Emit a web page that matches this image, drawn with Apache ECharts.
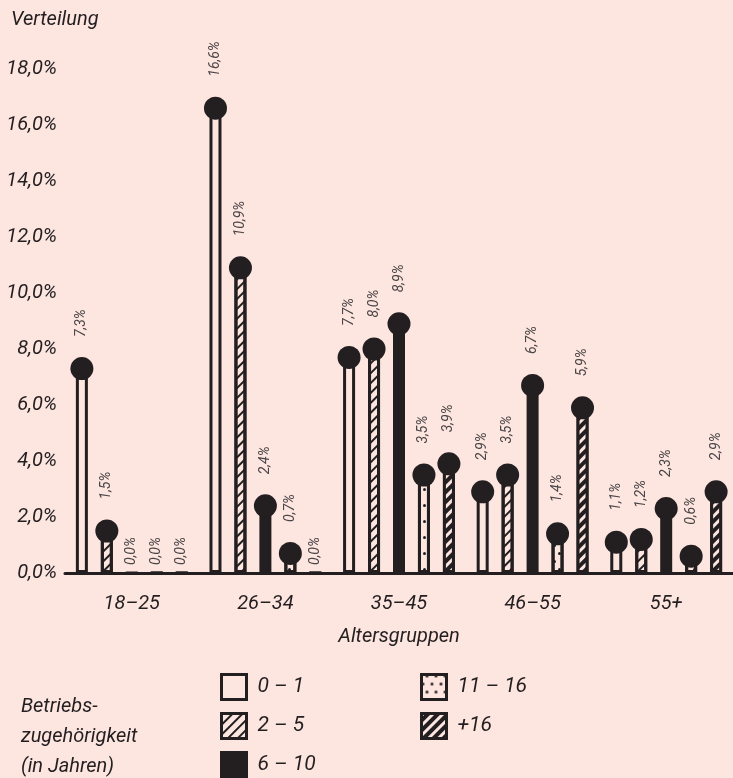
<!DOCTYPE html>
<html>
<head>
<meta charset="utf-8">
<script src="https://cdn.jsdelivr.net/npm/echarts@6/dist/echarts.min.js"></script>
<style>
html,body{margin:0;padding:0;background:#fde5e0;}
#chart{width:733px;height:778px;}
</style>
</head>
<body>
<div id="chart"></div>
<script>
const categories = ['18–25', '26–34', '35–45', '46–55', '55+'];
const groupNames = ['0 – 1', '2 – 5', '6 – 10', '11 – 16', '+16'];
const v0_1   = [7.3, 16.6, 7.7, 2.9, 1.1];
const v2_5   = [1.5, 10.9, 8.0, 3.5, 1.2];
const v6_10  = [0.0, 2.4, 8.9, 6.7, 2.3];
const v11_16 = [0.0, 0.7, 3.5, 1.4, 0.6];
const v16p   = [0.0, 0.0, 3.9, 5.9, 2.9];
const yMin = 0, yMax = 18, yStep = 2;

const BG = '#fde5e0';
const DARK = '#231f20';
const FONT = "'Liberation Sans Narrow', 'Roboto', sans-serif";
const fmt = v => v.toFixed(1).replace('.', ',') + '%';

const allValues = [v0_1, v2_5, v6_10, v11_16, v16p];
const styles = [
  {color: BG},
  {color: BG, decal: {symbol: 'rect', color: DARK, backgroundColor: null, dashArrayX: [1, 0], dashArrayY: [1.2, 5], rotation: -Math.PI / 4, symbolSize: 1}},
  {color: DARK},
  {color: BG, decal: {symbol: 'circle', color: DARK, backgroundColor: null, dashArrayX: [[2.6, 5.4], [0, 4, 2.6, 1.4]], dashArrayY: [2.6, 4.6], symbolSize: 1, rotation: 0}},
  {color: DARK, decal: {symbol: 'rect', color: BG, backgroundColor: null, dashArrayX: [1, 0], dashArrayY: [2.2, 4], rotation: -Math.PI / 4, symbolSize: 1}}
];

const BW = 12, GAP = '108%';
const series = [];
allValues.forEach((vals, i) => {
  series.push({
    name: groupNames[i],
    type: 'bar',
    data: vals,
    barWidth: BW,
    barGap: GAP,
    itemStyle: Object.assign({borderColor: DARK, borderWidth: 3}, styles[i]),
    emphasis: {disabled: true},
    z: 2
  });
});
allValues.forEach((vals, i) => {
  series.push({
    name: 'dot' + i,
    type: 'pictorialBar',
    barWidth: BW,
    barGap: GAP,
    symbol: 'circle',
    symbolPosition: 'end',
    symbolSize: [23, 23],
    symbolOffset: [0, '-50%'],
    itemStyle: {color: DARK},
    z: 5,
    label: {
      show: true,
      position: 'top',
      rotate: 90,
      align: 'left',
      verticalAlign: 'middle',
      distance: 20,
      fontFamily: FONT,
      fontStyle: 'italic',
      fontSize: 14,
      color: '#4a4546',
      formatter: p => fmt(p.value)
    },
    data: vals.map(v => v === 0 ? {value: v, symbolSize: [0, 0], label: {distance: 8}} : {value: v})
  });
});

// legend layout: [left, top] per group name
const legendSlots = [[220, 673], [220, 712], [220, 751], [420, 673], [420, 712]];
const legends = groupNames.map((name, i) => ({
  left: legendSlots[i][0],
  top: legendSlots[i][1],
  padding: 0,
  itemWidth: 25,
  itemHeight: 25,
  selectedMode: false,
  textStyle: {fontFamily: FONT, fontStyle: 'italic', fontSize: 21, color: DARK, padding: [0, 0, 0, 6]},
  data: [{name: name, icon: 'rect', itemStyle: Object.assign({borderColor: DARK, borderWidth: 3}, styles[i])}]
}));

const chart = echarts.init(document.getElementById('chart'), null, {renderer: 'canvas'});
chart.setOption({
  backgroundColor: BG,
  animation: false,
  title: [
    {text: 'Verteilung', left: 6, top: 5, textStyle: {fontFamily: FONT, fontStyle: 'italic', fontWeight: 'normal', fontSize: 20, color: DARK}},
    {text: 'Betriebs-\nzugehörigkeit\n(in Jahren)', left: 16, top: 687, textStyle: {fontFamily: FONT, fontStyle: 'italic', fontWeight: 'normal', fontSize: 20, lineHeight: 30, color: DARK}}
  ],
  legend: legends,
  grid: {left: 65, right: 0, top: 69, bottom: 205, containLabel: false},
  xAxis: {
    type: 'category',
    data: categories,
    name: 'Altersgruppen',
    nameLocation: 'middle',
    nameGap: 54,
    nameTextStyle: {fontFamily: FONT, fontStyle: 'italic', fontSize: 20, color: DARK},
    axisLine: {lineStyle: {color: DARK, width: 3}},
    axisTick: {show: false},
    axisLabel: {fontFamily: FONT, fontStyle: 'italic', fontSize: 20, color: DARK, margin: 21}
  },
  yAxis: {
    type: 'value',
    min: yMin,
    max: yMax,
    interval: yStep,
    axisLine: {show: false},
    axisTick: {show: false},
    splitLine: {show: false},
    axisLabel: {fontFamily: FONT, fontStyle: 'italic', fontSize: 20, color: DARK, margin: 8, formatter: v => fmt(v)}
  },
  series: series
});
</script>
</body>
</html>
